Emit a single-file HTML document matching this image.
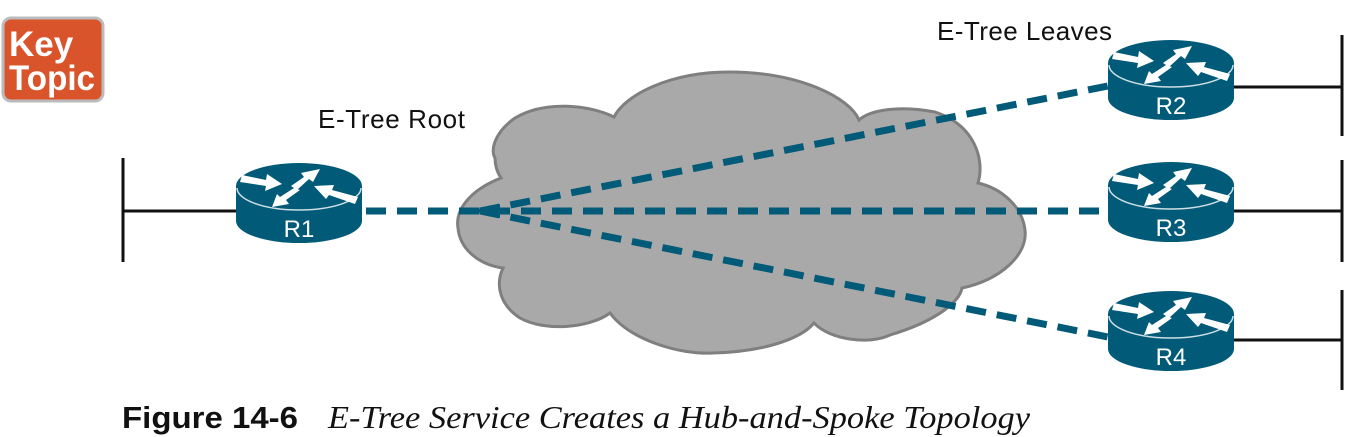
<!DOCTYPE html>
<html><head><meta charset="utf-8"><style>
html,body{margin:0;padding:0;background:#fff;}
svg{display:block;}
</style></head><body>
<svg width="1349" height="437" viewBox="0 0 1349 437" xmlns="http://www.w3.org/2000/svg">
<defs>
<g id="rt">
  <path d="M0,23 L0,58 A63,22 0 0 0 126,58 L126,23 Z" fill="#005a78"/>
  <ellipse cx="63" cy="23" rx="63" ry="23" fill="#005a78"/>
  <path d="M1,25 A62,22 0 0 0 125,25" fill="none" stroke="#fff" stroke-width="1.5" opacity="0.8"/>
  <polygon points="6,12 30,17 31,11 46,21 29,28 30,23 4,19" fill="#fff"/>
  <polygon points="55,23 68,14 65,10 84,6 77,19 73,16 61,27" fill="#fff"/>
  <polygon points="122,34 96,27 98,22 78,23 90,36 93,32 119,41" fill="#fff"/>
  <polygon points="64,27 50,37 53,41 36,44 41,31 44,34 58,25" fill="#fff"/>
</g>
</defs>
<rect x="3" y="18" width="100" height="83" rx="8" fill="#d9532b" stroke="#bbb" stroke-width="3"/>
<text x="9" y="56" font-family="Liberation Sans, sans-serif" font-size="35" font-weight="bold" fill="#fff">Key</text>
<text x="9" y="90" font-family="Liberation Sans, sans-serif" font-size="35" font-weight="bold" fill="#fff" textLength="86" lengthAdjust="spacingAndGlyphs">Topic</text>
<path d="M501,178 C470,190 455,210 458,228 C460,250 480,265 503,268 C495,285 500,305 520,318 C545,332 590,328 610,313 C630,340 680,355 713,353 C760,352 800,340 814,323 C830,340 870,345 890,335 C940,320 960,300 962,288 C1000,280 1028,255 1025,230 C1022,205 1000,188 978,183 C985,160 975,125 935,112 C900,105 870,110 859,120 C850,98 800,72 729,72 C670,72 625,95 614,117 C590,105 545,100 515,118 C495,132 490,150 495,158 C495,165 497,172 501,178 Z" fill="#a9a9a9" stroke="#7f7f7f" stroke-width="3"/>
<g stroke="#111" stroke-width="3">
<line x1="123" y1="158" x2="123" y2="262"/><line x1="123" y1="211" x2="236" y2="211"/>
<line x1="1342" y1="35" x2="1342" y2="136"/><line x1="1234" y1="87" x2="1342" y2="87"/>
<line x1="1342" y1="160" x2="1342" y2="262"/><line x1="1234" y1="211" x2="1342" y2="211"/>
<line x1="1342" y1="290" x2="1342" y2="390"/><line x1="1234" y1="340" x2="1342" y2="340"/>
</g>
<g stroke="#005a78" stroke-width="7" stroke-dasharray="20,11" fill="none">
<line x1="366" y1="211" x2="1108" y2="211"/>
<line x1="480" y1="211" x2="1108" y2="86"/>
<line x1="480" y1="211" x2="1108" y2="337"/>
</g>
<polygon points="472,211 500,204 500,218" fill="#005a78"/>
<use href="#rt" x="236" y="163"/>
<use href="#rt" x="1108" y="40"/>
<use href="#rt" x="1108" y="162"/>
<use href="#rt" x="1108" y="291"/>
<g font-family="Liberation Sans, sans-serif" font-size="24" fill="#fff" text-anchor="middle">
<text x="299" y="237">R1</text>
<text x="1171" y="114">R2</text>
<text x="1171" y="236">R3</text>
<text x="1171" y="365">R4</text>
</g>
<g font-family="Liberation Sans, sans-serif" font-size="26" fill="#111">
<text x="318" y="128" textLength="147">E-Tree Root</text>
<text x="937" y="40" textLength="175">E-Tree Leaves</text>
</g>
<text x="122" y="428" font-family="Liberation Sans, sans-serif" font-size="31" font-weight="bold" fill="#111" textLength="176" lengthAdjust="spacingAndGlyphs">Figure 14-6</text>
<text x="328" y="428" font-family="Liberation Serif, serif" font-size="32" font-style="italic" fill="#111" textLength="702" lengthAdjust="spacingAndGlyphs">E-Tree Service Creates a Hub-and-Spoke Topology</text>
</svg>
</body></html>
